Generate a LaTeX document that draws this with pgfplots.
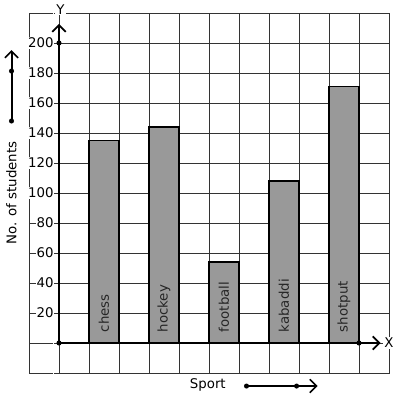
\documentclass[border=0pt]{standalone}
\usepackage{fontspec}
\setmainfont{DejaVu Sans}
\usepackage{pgfplots}
\pgfplotsset{compat=1.18}
\usepackage{pgfplotstable}
\usetikzlibrary{arrows.meta}
\pgfplotstableread{
x y
1.5 135
3.5 144
5.5 54
7.5 108
9.5 171
}\sportdata
\pgfplotstableread{
x y label
1.5 7 chess
3.5 7 hockey
5.5 7 football
7.5 7 kabaddi
9.5 7 shotput
}\labeldata
\begin{document}
\begin{tikzpicture}[font=\fontsize{10pt}{12pt}\selectfont]
\begin{axis}[
  at={(0,0)}, anchor=south west,
  scale only axis, width=270pt, height=270pt,
  xmin=-1, xmax=11, ymin=-20, ymax=220,
  xtick={-1,0,...,11}, ytick={-20,0,...,220},
  xticklabels={},
  yticklabels={,,20,40,60,80,100,120,140,160,180,200,},
  yticklabel style={xshift=19.2pt, fill=white, inner sep=0.6pt},
  major tick length=0pt,
  grid=major,
  grid style={line width=0.7pt, black!80},
  axis line style={line width=0.7pt, black!80},
  clip=false,
  axis on top=false,
]
\addplot[ybar, bar width=1, bar shift=0pt, fill=black!40, draw=black, line width=0.9pt] table[x=x,y=y]{\sportdata};
\addplot[draw=none, mark=none, nodes near coords, point meta=explicit symbolic,
  nodes near coords style={rotate=90, anchor=west, text=black!85, inner sep=0pt}]
  table[x=x,y=y,meta=label]{\labeldata};
% axes
\draw[line width=1.8pt, -{Straight Barb[length=5pt,width=10pt,line width=1.3pt]}] (axis cs:0,0) -- (axis cs:0,212.7);
\draw[line width=1.8pt, -{Straight Barb[length=5pt,width=10pt,line width=1.3pt]}] (axis cs:0,0) -- (axis cs:10.72,0);
\fill (axis cs:0,0) circle (1.9pt);
\fill (axis cs:0,200) circle (1.9pt);
\fill (axis cs:10,0) circle (1.9pt);
\node[fill=white, inner sep=0.8pt] at (axis cs:0.05,222.5) {Y};
\node[fill=white, inner sep=0.8pt, anchor=west] at (axis cs:10.8,0) {X};
% y label and arrow
\node[rotate=90] at (axis cs:-1.583,100) {No. of students};
\draw[line width=1.5pt, -{Straight Barb[length=5pt,width=10pt,line width=1.2pt]}] (axis cs:-1.583,148) -- (axis cs:-1.583,195.3);
\fill (axis cs:-1.583,148) circle (1.9pt);
\fill (axis cs:-1.583,181.3) circle (1.9pt);
% x label and arrow
\node at (axis cs:4.96,-28) {Sport};
\draw[line width=1.5pt, -{Straight Barb[length=5pt,width=10pt,line width=1.2pt]}] (axis cs:6.25,-28.7) -- (axis cs:8.62,-28.7);
\fill (axis cs:6.25,-28.7) circle (1.9pt);
\fill (axis cs:7.92,-28.7) circle (1.9pt);
\end{axis}
\path (-21.75pt,-19.5pt) rectangle (276pt,279.75pt);
\end{tikzpicture}
\end{document}
